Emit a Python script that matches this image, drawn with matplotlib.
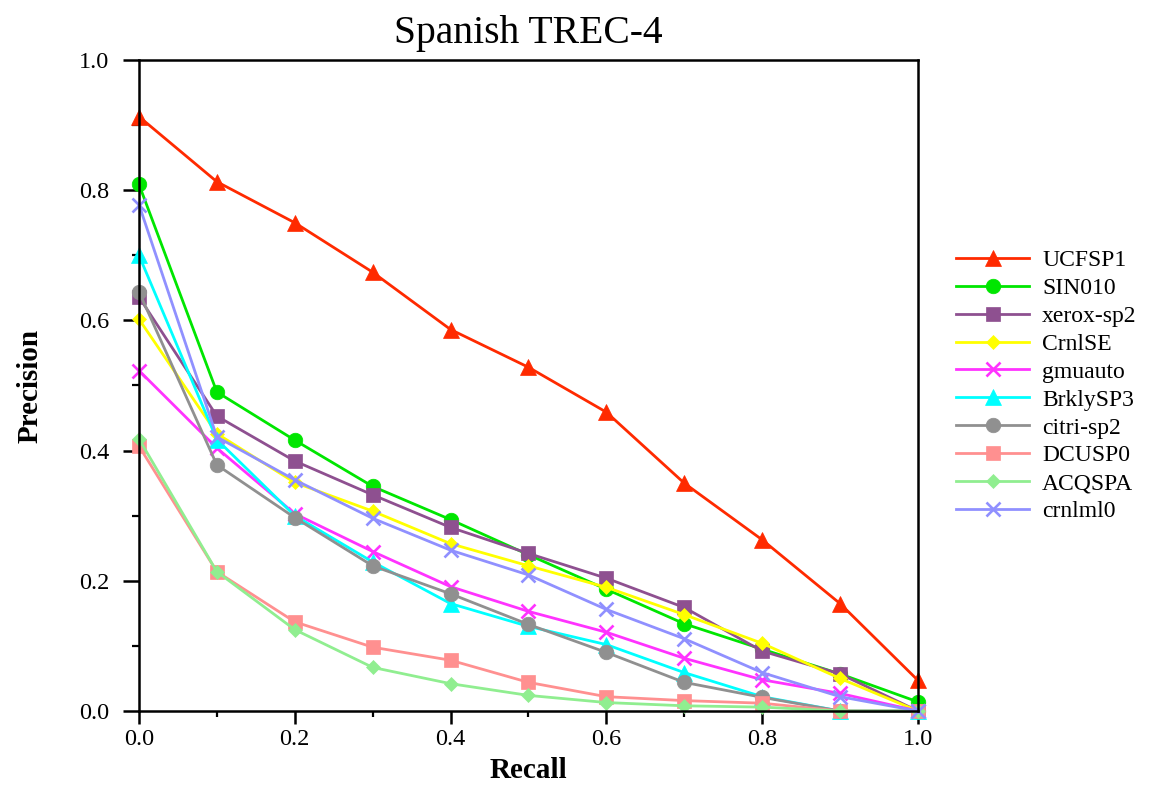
import matplotlib
matplotlib.use("Agg")
import matplotlib.pyplot as plt
from matplotlib.ticker import MultipleLocator, FormatStrFormatter

plt.rcParams['font.family'] = ['Liberation Serif', 'DejaVu Serif']

recall = [0.0, 0.1, 0.2, 0.3, 0.4, 0.5, 0.6, 0.7, 0.8, 0.9, 1.0]

runs = ['UCFSP1', 'SIN010', 'xerox-sp2', 'CrnlSE', 'gmuauto',
        'BrklySP3', 'citri-sp2', 'DCUSP0', 'ACQSPA', 'crnlml0']

ucfsp1   = [0.913, 0.813, 0.750, 0.674, 0.586, 0.528, 0.459, 0.350, 0.263, 0.165, 0.047]
sin010   = [0.809, 0.490, 0.416, 0.345, 0.294, 0.240, 0.187, 0.134, 0.095, 0.057, 0.014]
xerox    = [0.636, 0.453, 0.384, 0.332, 0.282, 0.242, 0.204, 0.159, 0.092, 0.057, 0.000]
crnlse   = [0.602, 0.426, 0.351, 0.307, 0.257, 0.223, 0.190, 0.148, 0.104, 0.050, 0.000]
gmuauto  = [0.523, 0.404, 0.303, 0.245, 0.191, 0.153, 0.121, 0.081, 0.048, 0.027, 0.000]
brkly    = [0.700, 0.417, 0.300, 0.229, 0.165, 0.130, 0.102, 0.059, 0.022, 0.000, 0.000]
citri    = [0.644, 0.378, 0.297, 0.223, 0.180, 0.133, 0.090, 0.044, 0.021, 0.000, 0.000]
dcusp0   = [0.407, 0.214, 0.137, 0.098, 0.078, 0.044, 0.022, 0.016, 0.012, 0.000, 0.000]
acqspa   = [0.418, 0.214, 0.125, 0.067, 0.042, 0.024, 0.013, 0.008, 0.006, 0.000, 0.000]
crnlml0  = [0.778, 0.421, 0.355, 0.296, 0.247, 0.209, 0.156, 0.111, 0.059, 0.022, 0.000]

series = [ucfsp1, sin010, xerox, crnlse, gmuauto, brkly, citri, dcusp0, acqspa, crnlml0]
colors = ['#ff2a00', '#00e600', '#8e5090', '#ffff00', '#ff33ff',
          '#00ffff', '#909090', '#ff9090', '#90ee90', '#9090ff']
markers = ['^', 'o', 's', 'D', 'x', '^', 'o', 's', 'D', 'x']
msizes = [11, 10.5, 10, 7.5, 10, 11, 10.5, 10, 7.5, 10]

fig = plt.figure(figsize=(11.56, 7.86), dpi=100)
ax = fig.add_axes([0.1202, 0.0954, 0.6739, 0.8283])

for name, vals, c, m, ms in zip(runs, series, colors, markers, msizes):
    ax.plot(recall, vals, color=c, marker=m, markersize=ms, linewidth=2.0,
            markeredgewidth=1.9 if m == 'x' else 0.5, markeredgecolor=c,
            markerfacecolor=c, label=name, clip_on=False)

ax.set_xlim(0, 1.0)
ax.set_ylim(0, 1.0)
ax.xaxis.set_major_locator(MultipleLocator(0.2))
ax.xaxis.set_minor_locator(MultipleLocator(0.1))
ax.yaxis.set_major_locator(MultipleLocator(0.2))
ax.yaxis.set_minor_locator(MultipleLocator(0.1))
ax.xaxis.set_major_formatter(FormatStrFormatter('%.1f'))
ax.yaxis.set_major_formatter(FormatStrFormatter('%.1f'))
ax.tick_params(which='both', direction='out', top=False, right=False)
ax.tick_params(axis='x', which='major', length=9, width=1.8, labelsize=17.5, pad=4)
ax.tick_params(axis='x', which='minor', length=4, width=1.6)
ax.tick_params(axis='y', which='major', length=11.5, width=1.8, labelsize=17.5, pad=10)
ax.tick_params(axis='y', which='minor', length=5, width=1.6)
for s in ax.spines.values():
    s.set_linewidth(1.8)

ax.set_xlabel('Recall', fontsize=21, fontweight='bold', labelpad=5)
ax.set_ylabel('Precision', fontsize=21, fontweight='bold', labelpad=25)
ax.set_title('Spanish TREC-4', fontsize=28.5, pad=12)

fig.legend(loc='center left', bbox_to_anchor=(0.827, 0.509), frameon=False,
           fontsize=17, handlelength=3.1, handletextpad=0.55,
           labelspacing=0.27, borderpad=0, borderaxespad=0)

fig.savefig('out.png', dpi=100)
